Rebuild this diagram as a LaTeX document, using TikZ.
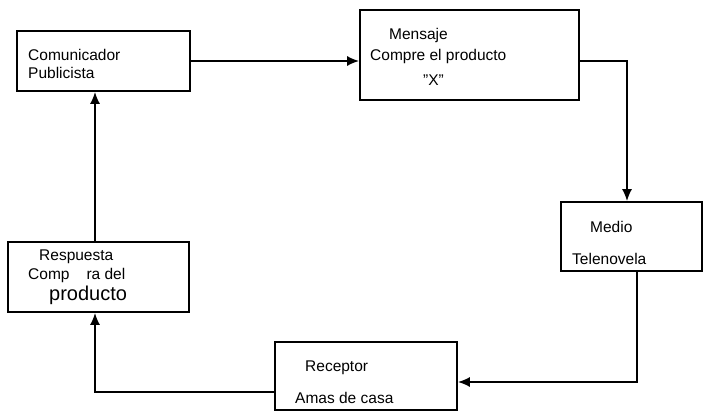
\documentclass[tikz,border=0pt]{standalone}
\usepackage{fontspec}
\setmainfont{Liberation Sans}
\usetikzlibrary{arrows.meta}
\begin{document}
\begin{tikzpicture}[x=1pt,y=-1pt,
  box/.style={draw,line width=1.7pt,rectangle,inner sep=0pt},
  txt/.style={anchor=west,inner sep=0pt,font=\fontsize{15.5}{18}\selectfont},
  big/.style={anchor=west,inner sep=0pt,font=\fontsize{20}{24}\selectfont},
  arr/.style={line width=1.7pt,-{Latex[length=12pt,width=10pt]}}]
\useasboundingbox (0,0) rectangle (704,412);
% boxes
\node[box,minimum width=173pt,minimum height=60pt] (com) at (103.5,61) {};
\node[box,minimum width=219pt,minimum height=90pt] (men) at (469.5,55) {};
\node[box,minimum width=141pt,minimum height=69pt] (med) at (631.5,236.5) {};
\node[box,minimum width=182pt,minimum height=68pt] (rec) at (366,376) {};
\node[box,minimum width=181pt,minimum height=70pt] (res) at (98.5,277) {};
% texts
\node[txt] (t1) at (28,55) {Comunicador};
\node[txt] (t2) at (28,73) {Publicista};
\node[txt] (t3) at (389,35) {Mensaje};
\node[txt] (t4) at (370,56) {Compre el producto};
\node[txt] (t5) at (423,80) {"X"};
\node[txt] (t6) at (590,227) {Medio};
\node[txt] (t7) at (572,259) {Telenovela};
\node[txt] (t8) at (305,368) {Receptor};
\node[txt] (t9) at (295,398) {Amas de casa};
\node[txt] (t10) at (39,257) {Respuesta};
\node[txt] (t11) at (28,275) {Comp\hspace{17pt}ra del};
\node[big] (t12) at (49,295) {producto};
% connectors
\draw[arr] (com.east) -- (com.east -| men.west);
\draw[arr] ([yshift=-6pt]men.east) -| ([xshift=-4.5pt]med.north);
\draw[arr] ([xshift=5.5pt]med.south) |- ([yshift=-6pt]rec.east);
\draw[arr] ([yshift=-16pt]rec.west) -| ([xshift=-3.5pt]res.south);
\draw[arr] ([xshift=-3.5pt]res.north) -- ([xshift=-8.5pt]com.south);
\end{tikzpicture}
\end{document}
